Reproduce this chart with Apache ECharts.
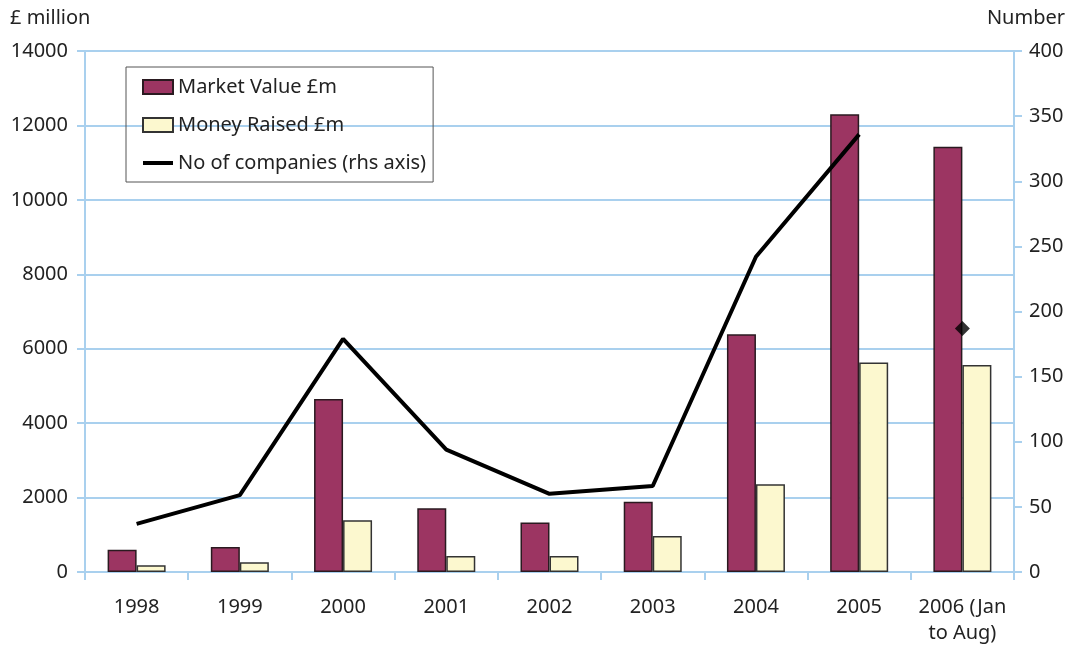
<!DOCTYPE html>
<html>
<head>
<meta charset="utf-8">
<script src="https://cdn.jsdelivr.net/npm/echarts@6/dist/echarts.min.js"></script>
<style>
  html, body { margin: 0; padding: 0; background: #fff; }
  #chart { width: 1068px; height: 646px; }
</style>
</head>
<body>
<div id="chart"></div>
<script>
// values
var years = ["1998", "1999", "2000", "2001", "2002", "2003", "2004", "2005", "2006 (Jan\nto Aug)"];
var marketValue = [600, 670, 4650, 1710, 1330, 1890, 6390, 12300, 11430];
var moneyRaised = [180, 260, 1390, 430, 430, 970, 2360, 5630, 5560];
var companies = [37, 59, 179, 94, 60, 66, 242, 336, "-"];
var companies2006 = ["-", "-", "-", "-", "-", "-", "-", "-", 187];

var blue = "#a9d0ee";
var font = "Noto Sans";

var chart = echarts.init(document.getElementById("chart"));
chart.setOption({
  animation: false,
  textStyle: { fontFamily: font, color: "#222" },
  grid: { left: 85, right: 54, top: 51, bottom: 72, containLabel: false },
  legend: {
    orient: "vertical",
    left: 126,
    top: 67,
    padding: [10, 7, 9, 16],
    itemGap: 18,
    itemWidth: 30,
    itemHeight: 14,
    itemTextGap: 6,
    borderColor: "#555",
    borderWidth: 1,
    textStyle: { fontSize: 20, color: "#222", fontFamily: font },
    data: [
      { name: "Market Value £m", icon: "rect" },
      { name: "Money Raised £m", icon: "rect" },
      { name: "No of companies (rhs axis)", icon: "path://M0,0H30V4H0Z" }
    ]
  },
  graphic: [
    { type: "text", left: 10, top: 8, style: { text: "£ million", fontSize: 20, fontFamily: font, fill: "#222" } },
    { type: "text", right: 3, top: 8, style: { text: "Number", fontSize: 20, fontFamily: font, fill: "#222" } }
  ],
  xAxis: {
    type: "category",
    data: years,
    axisLine: { lineStyle: { color: blue, width: 2 } },
    axisTick: { show: true, length: 8, lineStyle: { color: blue, width: 2 } },
    axisLabel: { fontSize: 20, color: "#222", margin: 22, lineHeight: 26, interval: 0 }
  },
  yAxis: [
    {
      type: "value",
      min: 0, max: 14000, interval: 2000,
      axisLine: { show: true, lineStyle: { color: blue, width: 2 } },
      axisTick: { show: true, length: 8, lineStyle: { color: blue, width: 2 } },
      axisLabel: { fontSize: 20, color: "#222", margin: 17, formatter: function (v) { return String(v); } },
      splitLine: { show: true, lineStyle: { color: blue, width: 2 } }
    },
    {
      type: "value",
      min: 0, max: 400, interval: 50,
      position: "right",
      axisLine: { show: true, lineStyle: { color: blue, width: 2 } },
      axisTick: { show: true, length: 8, lineStyle: { color: blue, width: 2 } },
      axisLabel: { fontSize: 20, color: "#222", margin: 15 },
      splitLine: { show: false }
    }
  ],
  series: [
    {
      name: "Market Value £m",
      type: "bar",
      data: marketValue,
      barWidth: 29,
      barGap: "0%",
      itemStyle: { color: "#9c3562", borderColor: "#2a1a20", borderWidth: 1.5 }
    },
    {
      name: "Money Raised £m",
      type: "bar",
      data: moneyRaised,
      barWidth: 29,
      barGap: "0%",
      itemStyle: { color: "#fcf8cf", borderColor: "#333", borderWidth: 1.5 }
    },
    {
      name: "No of companies (rhs axis)",
      type: "line",
      yAxisIndex: 1,
      data: companies,
      showSymbol: false,
      symbol: "none",
      lineStyle: { color: "#000", width: 4 },
      itemStyle: { color: "#000" },
      z: 5
    },
    {
      name: "2006 companies",
      type: "scatter",
      yAxisIndex: 1,
      data: companies2006,
      symbol: "diamond",
      symbolSize: 15,
      itemStyle: { color: "#000" },
      z: 6
    }
  ]
});
</script>
</body>
</html>
